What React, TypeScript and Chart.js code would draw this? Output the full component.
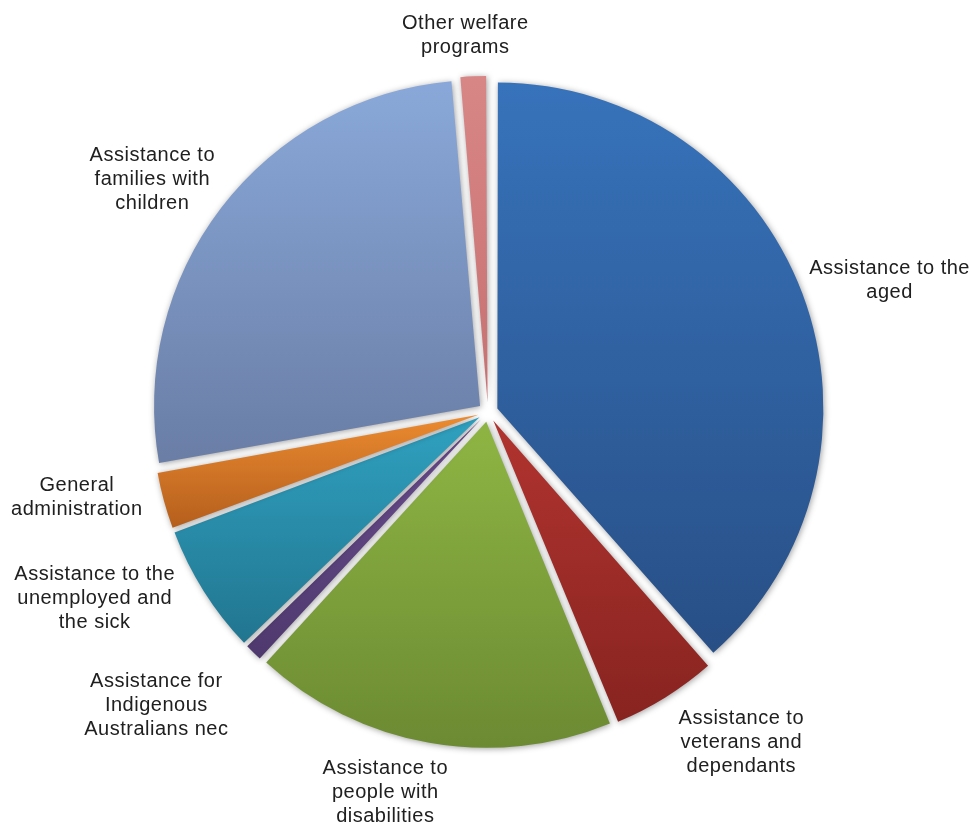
import React, { useEffect, useRef } from "react";
import { Chart, registerables } from "chart.js";

Chart.register(...registerables);

// ---- data ----
const categories = [
  "Assistance to the aged",
  "Assistance to veterans and dependants",
  "Assistance to people with disabilities",
  "Assistance for Indigenous Australians nec",
  "Assistance to the unemployed and the sick",
  "General administration",
  "Assistance to families with children",
  "Other welfare programs",
];
const shares = [38.5, 5.3, 18.0, 1.0, 6.5, 2.9, 26.4, 1.4];

// ---- styles ----
const topColors = ["#3773bb", "#b0332f", "#8db443", "#6a4d8e", "#2fa0bf", "#ea8a30", "#8aa9da", "#d98686"];
const bottomColors = ["#284f86", "#86231f", "#6b8932", "#4d386c", "#21748e", "#b35d1c", "#6a7ea6", "#c77272"];

// manual label adjustments (px) relative to the automatic outside-end placement
const labelNudgeX = [5, 43, -34, -48, -35, -2, -6, -6];
const labelNudgeY = [18, -8, -6, 3, -39, -26, 20, 3];

const PIE_RADIUS = 326;
const OFFSET_OPTION = 40; // Chart.js draws arc offset as option/4 px
const OFFSET_PX = OFFSET_OPTION / 4;
const FONT_SIZE = 20;
const LINE_H = 24;
const LABEL_GAP = 20;
const WRAP_WIDTH = 172;

function wrapText(ctx: CanvasRenderingContext2D, text: string, maxW: number): string[] {
  const words = text.split(" ");
  const lines: string[] = [];
  let cur = "";
  for (const w of words) {
    const test = cur ? cur + " " + w : w;
    if (cur && ctx.measureText(test).width > maxW) {
      lines.push(cur);
      cur = w;
    } else {
      cur = test;
    }
  }
  if (cur) lines.push(cur);
  return lines;
}

const gradientShadowPlugin = {
  id: "sliceGradientShadow",
  beforeDatasetsDraw(chart: any) {
    const ctx: CanvasRenderingContext2D = chart.ctx;
    const meta = chart.getDatasetMeta(0);
    meta.data.forEach((arc: any, i: number) => {
      const p = arc.getProps(["x", "y", "startAngle", "endAngle", "circumference"], true);
      // keep every exploded slice at the same drawn radius
      const fix = 1 - Math.sin(Math.min(Math.PI, p.circumference || 0));
      arc.outerRadius = PIE_RADIUS - OFFSET_PX * fix;
      const mid = (p.startAngle + p.endAngle) / 2;
      const cx = p.x + Math.cos(mid) * OFFSET_PX;
      const cy = p.y + Math.sin(mid) * OFFSET_PX;
      let minY = cy;
      let maxY = cy;
      const consider = (a: number) => {
        const py = cy + Math.sin(a) * PIE_RADIUS;
        minY = Math.min(minY, py);
        maxY = Math.max(maxY, py);
      };
      consider(p.startAngle);
      consider(p.endAngle);
      for (let k = -4; k <= 4; k++) {
        const a = Math.PI / 2 + k * Math.PI;
        if (a > p.startAngle && a < p.endAngle) consider(a);
      }
      const g = ctx.createLinearGradient(0, minY, 0, maxY);
      g.addColorStop(0, topColors[i]);
      g.addColorStop(1, bottomColors[i]);
      arc.options = { ...arc.options, backgroundColor: g };
    });
    ctx.save();
    ctx.shadowColor = "rgba(0,0,0,0.38)";
    ctx.shadowBlur = 6;
    ctx.shadowOffsetX = 1;
    ctx.shadowOffsetY = 1;
  },
  afterDatasetsDraw(chart: any) {
    chart.ctx.restore();
  },
};

const outsideLabelPlugin = {
  id: "outsideLabels",
  afterDraw(chart: any) {
    const ctx: CanvasRenderingContext2D = chart.ctx;
    const meta = chart.getDatasetMeta(0);
    ctx.save();
    ctx.font = `${FONT_SIZE}px "Liberation Sans", Arial, sans-serif`;
    (ctx as any).letterSpacing = "0.5px";
    ctx.fillStyle = "#202020";
    ctx.textAlign = "center";
    ctx.textBaseline = "middle";
    meta.data.forEach((arc: any, i: number) => {
      const p = arc.getProps(["x", "y", "startAngle", "endAngle"], true);
      const mid = (p.startAngle + p.endAngle) / 2;
      const dx = Math.cos(mid);
      const dy = Math.sin(mid);
      const lines = wrapText(ctx, categories[i], WRAP_WIDTH);
      const hw = Math.max(...lines.map((l) => ctx.measureText(l).width)) / 2;
      const hh = (lines.length * LINE_H) / 2;
      const ext = Math.min(hw / Math.max(Math.abs(dx), 1e-6), hh / Math.max(Math.abs(dy), 1e-6));
      const d = PIE_RADIUS + OFFSET_PX + LABEL_GAP + ext;
      const lx = p.x + dx * d + labelNudgeX[i];
      const ly = p.y + dy * d + labelNudgeY[i];
      lines.forEach((ln, k) => {
        ctx.fillText(ln, lx, ly - hh + LINE_H * (k + 0.5));
      });
    });
    ctx.restore();
  },
};

export default function App() {
  const canvasRef = useRef<HTMLCanvasElement | null>(null);

  useEffect(() => {
    if (!canvasRef.current) return;
    const chart = new Chart(canvasRef.current, {
      type: "pie",
      data: {
        labels: categories,
        datasets: [
          {
            data: shares,
            backgroundColor: topColors,
            borderWidth: 0,
            offset: OFFSET_OPTION,
            radius: PIE_RADIUS,
          } as any,
        ],
      },
      options: {
        responsive: false,
        animation: false,
        devicePixelRatio: 1,
        radius: PIE_RADIUS,
        layout: { padding: { left: 4, top: 2, right: 0, bottom: 0 } },
        plugins: {
          legend: { display: false },
          tooltip: { enabled: false },
        },
      } as any,
      plugins: [gradientShadowPlugin, outsideLabelPlugin],
    });
    return () => chart.destroy();
  }, []);

  return (
    <div style={{ position: "absolute", left: 0, top: 0, width: 972, height: 822, background: "#ffffff" }}>
      <canvas ref={canvasRef} width={972} height={822} style={{ display: "block" }} />
    </div>
  );
}
